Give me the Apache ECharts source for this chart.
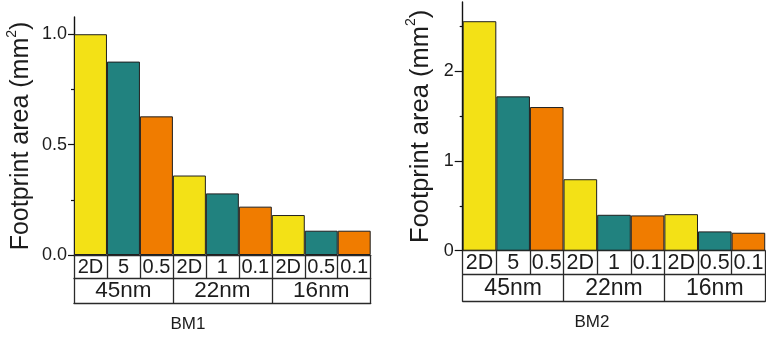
<!DOCTYPE html>
<html>
<head>
<meta charset="utf-8">
<script src="https://cdn.jsdelivr.net/npm/echarts@6/dist/echarts.min.js"></script>
<style>
  html, body { margin: 0; padding: 0; background: #ffffff; }
  #chart { width: 766px; height: 337px; }
</style>
</head>
<body>
<div id="chart"></div>
<script>
// Bar categories: stacking option per technology node
const categories = ['2D', '5', '0.5', '2D', '1', '0.1', '2D', '0.5', '0.1'];
// Technology nodes (each spans three bars)
const nodes = ['45nm', '22nm', '16nm'];
// Footprint area (mm^2)
const bm1Values = [1.0, 0.876, 0.628, 0.36, 0.279, 0.219, 0.181, 0.110, 0.110];
const bm2Values = [2.556, 1.719, 1.60, 0.796, 0.40, 0.393, 0.407, 0.215, 0.20];
// Y tick marks
const bm1Ticks = [0, 0.5, 1.0];
const bm1Minor = [0.25, 0.75];
const bm2Ticks = [0, 1, 2];
const bm2Minor = [0.5, 1.5, 2.5];

const barColors = ['#F3E116', '#21827F', '#F07C00'];
const FONT = 'Liberation Sans, Arial, Helvetica, sans-serif';
const INK = '#1c1c1c';
const LINE = '#2a2a2a';

const chart = echarts.init(document.getElementById('chart'), null, { renderer: 'canvas' });

function panel(idx, cfg) {
  const grid = { left: cfg.left, top: cfg.top, width: cfg.width, height: cfg.height };
  const tableLine = { show: true, onZero: false, lineStyle: { color: LINE, width: 1.3 } };
  const xAxes = [
    {
      type: 'category', gridIndex: idx, data: categories, position: 'bottom',
      boundaryGap: true,
      axisLine: tableLine,
      axisTick: { show: true, inside: false, length: cfg.row1, lineStyle: { color: LINE, width: 1.3 } },
      axisLabel: { interval: 0, fontSize: cfg.row1Font, fontFamily: FONT, color: INK, margin: cfg.row1Margin, lineHeight: cfg.row1Font },
      splitLine: { show: false }
    },
    {
      type: 'category', gridIndex: idx, data: nodes, position: 'bottom', offset: cfg.row1,
      boundaryGap: true,
      axisLine: tableLine,
      axisTick: { show: true, inside: false, length: cfg.row2, lineStyle: { color: LINE, width: 1.3 } },
      axisLabel: { interval: 0, fontSize: cfg.row2Font, fontFamily: FONT, color: INK, margin: cfg.row2Margin, lineHeight: cfg.row2Font },
      splitLine: { show: false }
    },
    {
      type: 'category', gridIndex: idx, data: nodes, position: 'bottom', offset: cfg.row1 + cfg.row2,
      axisLine: tableLine,
      axisTick: { show: false }, axisLabel: { show: false }, splitLine: { show: false }
    }
  ];
  const yAxes = [
    {
      type: 'value', gridIndex: idx, position: 'left', min: 0, max: cfg.max,
      axisLine: { show: true, onZero: false, lineStyle: { color: '#111', width: 1.4 } },
      axisTick: { show: true, inside: false, length: cfg.tickLen, customValues: cfg.ticks, lineStyle: { color: '#111', width: 1.2 } },
      axisLabel: { customValues: cfg.ticks, formatter: cfg.fmt, fontSize: 18, fontFamily: FONT, color: INK, margin: cfg.labelMargin },
      splitLine: { show: false },
      name: '{t|Footprint area (mm}{s|2}{t|)}',
      nameLocation: 'middle', nameRotate: 90, nameGap: cfg.nameGap, nameMoveOverlap: false,
      nameTextStyle: {
        rich: {
          t: { fontSize: cfg.nameFont, fontFamily: FONT, color: INK, lineHeight: cfg.nameFont + 4, verticalAlign: 'bottom' },
          s: { fontSize: 14, fontFamily: FONT, color: INK, lineHeight: 14, verticalAlign: 'top' }
        }
      }
    },
    {
      // minor ticks between the labelled ones
      type: 'value', gridIndex: idx, position: 'left', offset: 0, min: 0, max: cfg.max,
      axisLine: { show: false, onZero: false },
      axisTick: { show: true, inside: false, length: 3, customValues: cfg.minor, lineStyle: { color: '#111', width: 1.2 } },
      axisLabel: { show: false }, splitLine: { show: false }
    }
  ];
  const series = {
    type: 'bar', xAxisIndex: idx * 3, yAxisIndex: idx * 2, data: cfg.values,
    barWidth: '100%', barCategoryGap: '0%',
    itemStyle: {
      color: p => barColors[p.dataIndex % 3],
      borderColor: '#1f1f1f', borderWidth: 1
    },
    silent: true, animation: false
  };
  return { grid, xAxes, yAxes, series };
}

const left = panel(0, {
  left: 74, top: 17, width: 296.7, height: 238, max: 1.078,
  ticks: bm1Ticks, minor: bm1Minor, fmt: v => v.toFixed(1), values: bm1Values,
  tickLen: 6, labelMargin: 7, nameGap: 40, nameFont: 25,
  row1: 23, row2: 25.5, row1Font: 20, row2Font: 22.5, row1Margin: 2, row2Margin: 2
});
const right = panel(1, {
  left: 462.7, top: 2, width: 309, height: 248.7, max: 2.77,
  ticks: bm2Ticks, minor: bm2Minor, fmt: v => String(v), values: bm2Values,
  tickLen: 8, labelMargin: 9, nameGap: 29, nameFont: 25.5,
  row1: 23.5, row2: 27.4, row1Font: 21.5, row2Font: 23, row1Margin: 2, row2Margin: 3
});

chart.setOption({
  backgroundColor: '#ffffff',
  animation: false,
  grid: [left.grid, right.grid],
  xAxis: left.xAxes.concat(right.xAxes),
  yAxis: left.yAxes.concat(right.yAxes),
  series: [left.series, right.series],
  graphic: [
    { type: 'text', x: 188, y: 324, style: { text: 'BM1', fontSize: 17, fontFamily: FONT, fill: INK, align: 'center', verticalAlign: 'middle' } },
    { type: 'text', x: 592, y: 322, style: { text: 'BM2', fontSize: 17, fontFamily: FONT, fill: INK, align: 'center', verticalAlign: 'middle' } }
  ]
});
</script>
</body>
</html>
